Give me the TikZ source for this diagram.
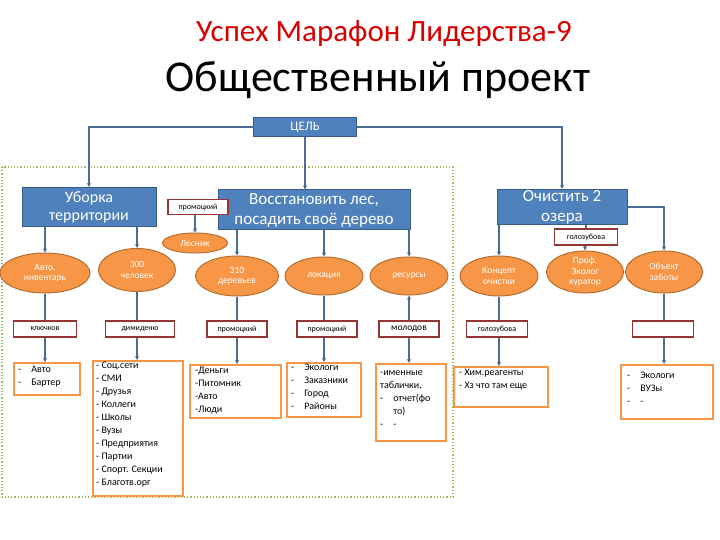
\documentclass[tikz,border=0pt]{standalone}
\usepackage{fontspec}
\setmainfont{Carlito}
\usetikzlibrary{shapes.geometric,arrows.meta}
\definecolor{bfill}{HTML}{4F81BD}
\definecolor{bdraw}{HTML}{385D8A}
\definecolor{ofill}{HTML}{F79646}
\definecolor{odraw}{HTML}{B66D31}
\definecolor{rdraw}{HTML}{943634}
\definecolor{lnk}{HTML}{4A6C98}
\definecolor{grn}{HTML}{9BBB59}
\tikzset{
 bbox/.style={draw=bdraw,fill=bfill,text=white,line width=1pt,inner sep=0pt,align=center},
 ell/.style={ellipse,draw=odraw,fill=ofill,text=white,line width=1pt,inner sep=0pt,align=center,font=\fontsize{9.5}{10.5}\selectfont},
 tag/.style={draw=rdraw,fill=white,line width=1.5pt,inner sep=0pt,font=\fontsize{8}{9}\selectfont},
 lst/.style={draw=ofill,fill=white,line width=2pt,inner sep=0pt,anchor=north west},
 lsttxt/.style={anchor=north west,align=left,inner sep=0pt,font=\fontsize{10}{13}\selectfont},
 arr/.style={draw=lnk,line width=1.3pt,-{Stealth[length=4pt,width=4pt]}},
}
\begin{document}
\begin{tikzpicture}[x=1pt,y=-1pt]
\useasboundingbox (0,0) rectangle (720,540);
\node[text=red!85!black,font=\fontsize{31}{34}\selectfont] (t1) at (384,34) {Успех Марафон Лидерства-9};
\node[font=\fontsize{44}{48}\selectfont] (t2) at (378,80) {Общественный проект};
\draw[grn,line width=1.2pt,dotted] (2,167) rectangle (453,497);
\node[bbox,minimum width=103,minimum height=19,font=\fontsize{13}{14}\selectfont] (goal) at (305,127) {ЦЕЛЬ};
\node[bbox,minimum width=134,minimum height=39,font=\fontsize{16}{18}\selectfont] (u) at (89,207) {Уборка\\территории};
\node[bbox,minimum width=192,minimum height=40,font=\fontsize{17}{20}\selectfont] (v) at (314,210) {Восстановить лес,\\посадить своё дерево};
\node[bbox,minimum width=130,minimum height=35,font=\fontsize{17}{20}\selectfont] (o) at (562,207) {Очистить 2\\озера};
\node[tag,minimum width=60,minimum height=15] (p0) at (198,207) {промоцкий};
\node[ell,minimum width=65,minimum height=20] (les) at (195,243) {Лесник};
\node[tag,minimum width=63,minimum height=16] (g1) at (586,237) {голозубова};
\node[ell,minimum width=90,minimum height=40] (e1) at (45,273) {Авто,\\инвентарь};
\node[ell,minimum width=77,minimum height=43] (e2) at (137,270) {300\\человек};
\node[ell,minimum width=83,minimum height=40] (e3) at (237,276) {310\\деревьев};
\node[ell,minimum width=78,minimum height=38] (e4) at (324,276) {локация};
\node[ell,minimum width=78,minimum height=38] (e5) at (409,276) {ресурсы};
\node[ell,minimum width=78,minimum height=40] (e6) at (499,276) {Концепт\\очистки};
\node[ell,minimum width=77,minimum height=42] (e7) at (585,272) {Проф.\\Эколог\\куратор};
\node[ell,minimum width=77,minimum height=42] (e8) at (664,272) {Объект\\заботы};
\node[tag,minimum width=63,minimum height=16] (r1) at (45,329) {ключков};
\node[tag,minimum width=69,minimum height=16] (r2) at (140,329) {димиденю};
\node[tag,minimum width=60,minimum height=16] (r3) at (237,329) {промоцкий};
\node[tag,minimum width=60,minimum height=16] (r4) at (327,329) {промоцкий};
\node[tag,minimum width=60,minimum height=16,font=\fontsize{9.5}{10}\selectfont] (r5) at (409,329) {молодов};
\node[tag,minimum width=61,minimum height=16] (r6) at (497,329) {голозубова};
\node[tag,minimum width=61,minimum height=16] (r8) at (663,329) {};
\node[lst,minimum width=66,minimum height=32] (b1) at (13,362) {};
\node[lst,minimum width=90,minimum height=135] (b2) at (92,360) {};
\node[lst,minimum width=91,minimum height=53] (b3) at (189,364) {};
\node[lst,minimum width=74,minimum height=54] (b4) at (286,362) {};
\node[lst,minimum width=70,minimum height=77] (b5) at (375,363) {};
\node[lst,minimum width=94,minimum height=40] (b6) at (453,366) {};
\node[lst,minimum width=92,minimum height=54] (b8) at (620,364) {};
\node[lsttxt] (x1) at (18,366) {-\quad Авто\\-\quad Бартер};
\node[lsttxt] (x2) at (96,362) {- Соц.сети\\- СМИ\\- Друзья\\- Коллеги\\- Школы\\- Вузы\\- Предприятия\\- Партии\\- Спорт. Секции\\- Благотв.орг};
\node[lsttxt] (x3) at (195,367) {-Деньги\\-Питомник\\-Авто\\-Люди};
\node[lsttxt] (x4) at (291,364) {-\quad Экологи\\-\quad Заказники\\-\quad Город\\-\quad Районы};
\node[lsttxt] (x5) at (380,370) {-именные\\таблички,\\-\quad отчет(фо\\\phantom{-}\quad то)\\-\quad -};
\node[lsttxt] (x6) at (459,369) {- Хим.реагенты\\- Хз что там еще};
\node[lsttxt] (x8) at (627,372) {-\quad Экологи\\-\quad ВУЗы\\-\quad -};
% connectors
\draw[arr] (goal.west) -| (u.north);
\draw[arr] (goal.east) -| (o.north);
\draw[arr] (goal.south) -- (goal.south |- v.north);
\draw[arr] (u.south -| e1) -- (e1.north);
\draw[arr] (u.south -| e2) -- (e2.north);
\draw[arr] (v.south -| e3) -- (e3.north);
\draw[arr] (v.south -| e4) -- (e4.north);
\draw[arr] (v.south -| e5) -- (e5.north);
\draw[arr] (p0.south -| les) -- (les.north);
\draw[arr] (o.south -| e6) -- (e6.north);
\draw[draw=lnk,line width=1.3pt] (o.south -| g1) -- (g1.north);
\draw[arr] (g1.south -| e7) -- (e7.north);
\draw[arr] (o.east) -| (e8.north);
\foreach \e/\r/\b in {e1/r1/b1,e2/r2/b2,e3/r3/b3,e4/r4/b4,e6/r6/b6,e8/r8/b8}{
 \draw[draw=lnk,line width=1.3pt] (\e.south) -- (\e.south |- \r.north);
 \draw[arr] (\r.south -| \e.south) -- (\e.south |- \b.north);
}
\draw[arr] (r5.north) -- (e5.south);
\draw[arr] (r5.south) -- (r5.south |- b5.north);
\end{tikzpicture}
\end{document}
